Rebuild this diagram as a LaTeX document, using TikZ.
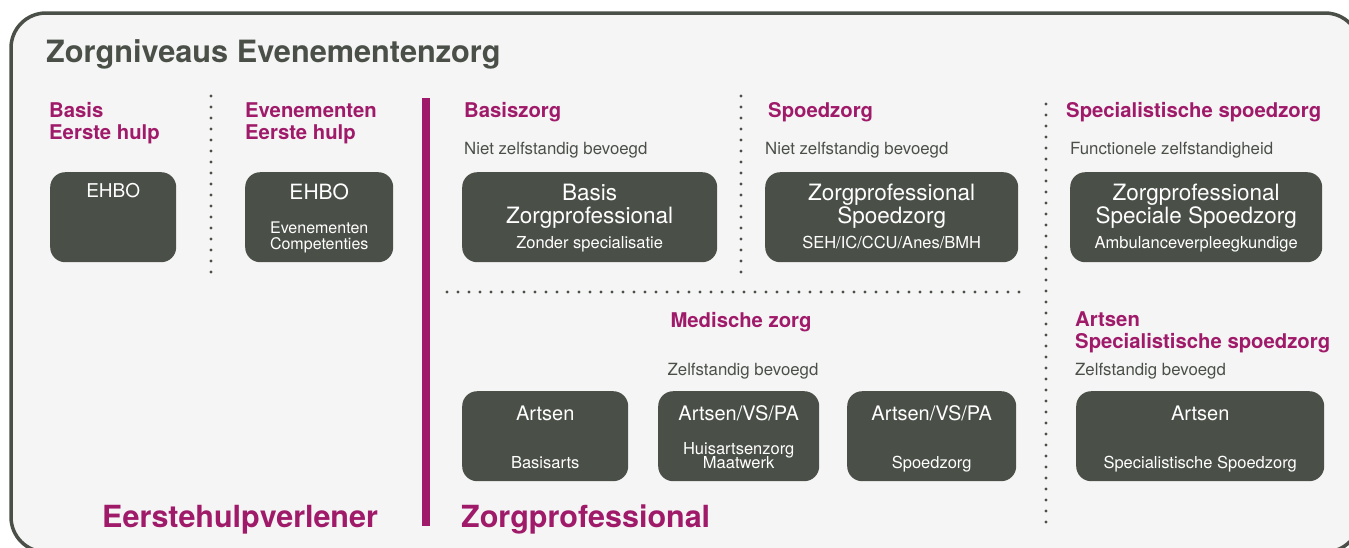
\documentclass[tikz,border=0pt]{standalone}
\usepackage{fontspec}
\setmainfont{TeX Gyre Heros}
\usetikzlibrary{positioning,calc}
\definecolor{boxgray}{RGB}{74,80,72}
\definecolor{plum}{RGB}{160,26,106}
\definecolor{paper}{RGB}{245,245,245}

\begin{document}
\begin{tikzpicture}[x=1pt,y=-1pt,
    title/.style={font=\bfseries\fontsize{30.7}{36}\selectfont, text=boxgray, anchor=base west, inner sep=0pt},
    head/.style={font=\bfseries\fontsize{20.3}{22}\selectfont, text=plum, anchor=base west, inner sep=0pt},
    big/.style={font=\bfseries\fontsize{30.5}{34}\selectfont, text=plum, anchor=base west, inner sep=0pt},
    note/.style={font=\fontsize{16.8}{18}\selectfont, text=boxgray, anchor=base west, inner sep=0pt},
    card/.style={fill=boxgray, rounded corners=15pt, inner sep=0pt, anchor=north west, minimum height=90pt},
    line1/.style={font=\fontsize{22.5}{24}\selectfont, text=white, anchor=base, inner sep=0pt},
    line2/.style={font=\fontsize{16.5}{18}\selectfont, text=white, anchor=base, inner sep=0pt},
    dots/.style={boxgray, line width=3.2pt, line cap=round, dash pattern=on 0pt off 11pt}]
  \useasboundingbox (0,0) rectangle (1349,547);
  \clip (0,0) rectangle (1349,547);
  % frame
  \draw[boxgray, line width=3.5pt, fill=paper, rounded corners=35pt] (11,13) rectangle (1360,552);
  \node[title] (titel) at (46,62) {Zorgniveaus Evenementenzorg};

  % separators
  \coordinate (s1a) at (211,96);   \coordinate (s1b) at (211,280);
  \coordinate (s2a) at (741,96);   \coordinate (s2b) at (741,280);
  \coordinate (s3a) at (1046,104); \coordinate (s3b) at (1046,532);
  \coordinate (s4a) at (447,292);  \coordinate (s4b) at (1027,292);
  \draw[dots] (s1a) -- (s1b);
  \draw[dots] (s2a) -- (s2b);
  \draw[dots] (s3a) -- (s3b);
  \draw[dots] (s4a) -- (s4b);
  \fill[plum] (422,98) rectangle (430,526);

  % eerste hulp
  \node[head] (bas1) at (49,117) {Basis};
  \node[head] (bas2) at (49,139) {Eerste hulp};
  \node[head] (eve1) at (245,117) {Evenementen};
  \node[head] (eve2) at (245,139) {Eerste hulp};
  \node[card, minimum width=126pt] (ehbo) at (50,172) {};
  \node[line1, font=\fontsize{19}{21}\selectfont] (ehbot) at ($(ehbo.north)+(0,25)$) {EHBO};
  \node[card, minimum width=148pt] (ehbe) at (245,172) {};
  \node[line1, font=\fontsize{21}{23}\selectfont] (ehbet) at ($(ehbe.north)+(0,27)$) {EHBO};
  \node[line2, font=\fontsize{16}{18}\selectfont] (ehbes1) at ($(ehbe.north)+(0,61)$) {Evenementen};
  \node[line2, font=\fontsize{16}{18}\selectfont] (ehbes2) at ($(ehbe.north)+(0,77)$) {Competenties};
  \node[big] (ehv) at (102,527) {Eerstehulpverlener};

  % zorgprofessional, bovenste rij
  \node[head] (bzorg) at (464,117) {Basiszorg};
  \node[note] (bzorgn) at (464,154) {Niet zelfstandig bevoegd};
  \node[card, minimum width=255pt] (bzp) at (462,172) {};
  \node[line1] (bzp1) at ($(bzp.north)+(0,28)$) {Basis};
  \node[line1] (bzp2) at ($(bzp.north)+(0,51)$) {Zorgprofessional};
  \node[line2] (bzp3) at ($(bzp.north)+(0,76)$) {Zonder specialisatie};

  \node[head] (szorg) at (768,117) {Spoedzorg};
  \node[note] (szorgn) at (765,154) {Niet zelfstandig bevoegd};
  \node[card, minimum width=253pt] (szp) at (765,172) {};
  \node[line1] (szp1) at ($(szp.north)+(0,28)$) {Zorgprofessional};
  \node[line1] (szp2) at ($(szp.north)+(0,51)$) {Spoedzorg};
  \node[line2] (szp3) at ($(szp.north)+(0,76)$) {SEH/IC/CCU/Anes/BMH};

  \node[head] (spzorg) at (1066,117) {Specialistische spoedzorg};
  \node[note] (spzorgn) at (1070,154) {Functionele zelfstandigheid};
  \node[card, minimum width=252pt] (spzp) at (1070,172) {};
  \node[line1] (spzp1) at ($(spzp.north)+(0,28)$) {Zorgprofessional};
  \node[line1] (spzp2) at ($(spzp.north)+(0,51)$) {Speciale Spoedzorg};
  \node[line2] (spzp3) at ($(spzp.north)+(0,76)$) {Ambulanceverpleegkundige};

  % medische zorg
  \node[head, anchor=base] (med) at (741,327) {Medische zorg};
  \node[note, anchor=base] (medn) at (743,375) {Zelfstandig bevoegd};
  \node[card, minimum width=166pt] (arts1) at (462,391) {};
  \node[line1, font=\fontsize{20}{22}\selectfont] (arts1a) at ($(arts1.north)+(0,29)$) {Artsen};
  \node[line2] (arts1b) at ($(arts1.north)+(0,77)$) {Basisarts};
  \node[card, minimum width=161pt] (arts2) at (658,391) {};
  \node[line1, font=\fontsize{20}{22}\selectfont] (arts2a) at ($(arts2.north)+(0,29)$) {Artsen/VS/PA};
  \node[line2] (arts2b) at ($(arts2.north)+(0,63)$) {Huisartsenzorg};
  \node[line2] (arts2c) at ($(arts2.north)+(0,77)$) {Maatwerk};
  \node[card, minimum width=169pt] (arts3) at (847,391) {};
  \node[line1, font=\fontsize{20}{22}\selectfont] (arts3a) at ($(arts3.north)+(0,29)$) {Artsen/VS/PA};
  \node[line2] (arts3b) at ($(arts3.north)+(0,77)$) {Spoedzorg};

  \node[head] (sp1) at (1075,326) {Artsen};
  \node[head] (sp2) at (1075,348) {Specialistische spoedzorg};
  \node[note] (spn) at (1075,375) {Zelfstandig bevoegd};
  \node[card, minimum width=248pt] (arts4) at (1076,391) {};
  \node[line1, font=\fontsize{20}{22}\selectfont] (arts4a) at ($(arts4.north)+(0,29)$) {Artsen};
  \node[line2] (arts4b) at ($(arts4.north)+(0,77)$) {Specialistische Spoedzorg};

  \node[big] (zp) at (461,527) {Zorgprofessional};
\end{tikzpicture}
\end{document}
